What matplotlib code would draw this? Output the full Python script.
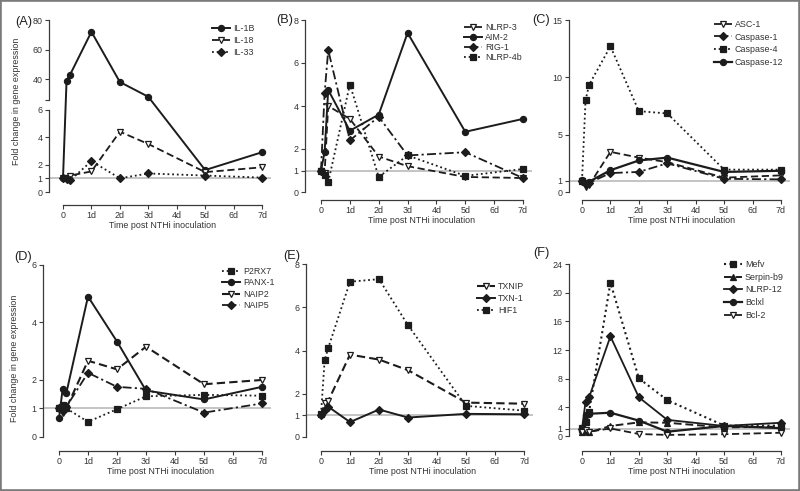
import numpy as np
import matplotlib
matplotlib.use("Agg")
import matplotlib.pyplot as plt
from matplotlib.patches import Rectangle
from matplotlib.ticker import NullFormatter

plt.rcParams['font.family'] = ['Liberation Sans', 'DejaVu Sans']

# ---------------- data ----------------
time_days = [0, 0.125, 0.25, 1, 2, 3, 5, 7]
x_tick_vals = [0, 1, 2, 3, 4, 5, 6, 7]
x_tick_labels = ['0', '1d', '2d', '3d', '4d', '5d', '6d', '7d']

# (A)
il1b = [1.0, 39, 43, 72, 38, 28, 1.6, 2.9]
il18 = [1.0, 1.05, 1.2, 1.5, 4.4, 3.5, 1.45, 1.8]
il33 = [1.0, 0.95, 0.85, 2.25, 1.0, 1.35, 1.2, 1.05]
# (B)
nlrp3 = [1.0, 0.9, 4.0, 3.4, 1.65, 1.2, 0.7, 0.65]
aim2 = [1.0, 1.85, 4.75, 2.85, 3.6, 7.4, 2.8, 3.4]
rig1 = [1.0, 4.6, 6.6, 2.4, 3.5, 1.7, 1.85, 0.65]
nlrp4b = [1.0, 0.8, 0.45, 5.0, 0.7, 1.7, 0.75, 1.07]
# (C)
asc1 = [1.0, 0.4, 0.6, 3.5, 3.0, 2.6, 1.25, 1.45]
casp1 = [1.0, 0.7, 0.8, 1.65, 1.75, 2.5, 1.15, 1.1]
casp4 = [1.0, 8.0, 9.35, 12.7, 7.05, 6.85, 1.95, 1.95]
casp12 = [1.05, 0.8, 0.9, 1.9, 2.75, 3.0, 1.75, 1.85]
# (D)
p2rx7 = [1.0, 1.1, 1.0, 0.53, 0.97, 1.42, 1.47, 1.44]
panx1 = [0.65, 1.67, 1.52, 4.9, 3.33, 1.62, 1.31, 1.75]
naip2 = [1.0, 0.85, 1.0, 2.66, 2.36, 3.15, 1.84, 1.99]
naip5 = [1.0, 0.9, 1.05, 2.24, 1.75, 1.68, 0.85, 1.17]
# (E)
txnip = [1.0, 1.55, 1.67, 3.81, 3.58, 3.09, 1.59, 1.54]
txn1 = [1.0, 1.25, 1.4, 0.69, 1.27, 0.9, 1.07, 1.05]
hif1 = [1.05, 3.55, 4.12, 7.18, 7.3, 5.17, 1.44, 1.22]
# (F)
mefv = [1.1, 2.0, 3.4, 21.4, 8.05, 5.0, 1.45, 1.45]
serpinb9 = [0.6, 0.7, 0.5, 1.4, 1.9, 1.85, 1.2, 1.3]
nlrp12 = [1.0, 4.8, 5.4, 13.9, 5.4, 2.25, 1.4, 1.85]
bclxl = [0.7, 2.9, 3.1, 3.25, 2.15, 0.6, 1.4, 1.1]
bcl2 = [0.5, 0.8, 0.6, 1.05, 0.28, 0.15, 0.25, 0.45]

# y ticks per panel
yt_a = [0, 1, 2, 4, 6, 40, 60, 80]
yt_b = [0, 1, 2, 4, 6, 8]
yt_c = [0, 1, 5, 10, 15]
yt_d = [0, 1, 2, 4, 6]
yt_e = [0, 1, 2, 4, 6, 8]
yt_f = [0, 1, 4, 8, 12, 16, 20, 24]

# ---------------- styles ----------------
INK = '#1c1c1c'
TXT = '#333333'
FS = 6.4
SOLID = '-'
DASH = (0, (4.0, 2.0))
DOT = (0, (1.0, 1.6))
DASHDOT = (0, (5.0, 1.8, 1.2, 1.8))

W, H = 800, 491
fig = plt.figure(figsize=(8, 4.91), dpi=100)


def make_ax(x0, x7, py0, pytop, yaxis, xaxis, xright=7.3):
    s = (x7 - x0) / 7.0
    xl = -(x0 - yaxis) / s
    right = x7 + (xright - 7) * s
    ax = fig.add_axes([yaxis / W, 1 - py0 / H, (right - yaxis) / W, (py0 - pytop) / H])
    ax.set_xlim(xl, xright)
    for sp in ('top', 'right'):
        ax.spines[sp].set_visible(False)
    for sp in ('left', 'bottom'):
        ax.spines[sp].set_linewidth(0.9)
        ax.spines[sp].set_color('#3a3a3a')
    ax.spines['bottom'].set_position(('outward', (xaxis - py0) * 0.72))
    ax.spines['bottom'].set_bounds(0, 7)
    ax.set_xticks(x_tick_vals)
    ax.set_xticklabels(x_tick_labels)
    ax.tick_params(which='both', direction='out', length=3, width=0.8, labelsize=FS,
                   pad=1.5, colors='#3a3a3a', labelcolor=TXT)
    ax.set_facecolor('none')
    return ax


def draw(ax, series, ylo, yhi, yticks, legend_xy, lspacing):
    ax.set_ylim(ylo, yhi)
    ax.set_yticks(yticks)
    ax.set_yticklabels([str(v) for v in yticks])
    ax.axhline(1, color='#b4b4b4', lw=1.1, zorder=1)
    handles = []
    for vals, label, ls, mk, filled, lw in series:
        h, = ax.plot(time_days, vals, color=INK, lw=lw, ls=ls, marker=mk, ms=4.4,
                     mfc=INK if filled else 'white', mec=INK, mew=0.9,
                     clip_on=False, zorder=3, label=label)
        handles.append(h)
    lx, ly = legend_xy
    leg = ax.legend(handles=handles, loc='upper left', bbox_to_anchor=(lx / W, 1 - ly / H),
                    bbox_transform=fig.transFigure, frameon=False, fontsize=FS,
                    handlelength=2.0, handletextpad=0.35, labelspacing=lspacing,
                    borderpad=0, borderaxespad=0, numpoints=1)
    for t in leg.get_texts():
        t.set_color(TXT)


def xlabel(ax, x0, x7, xaxis):
    fig.text(((x0 + x7) / 2) / W, 1 - (xaxis + 21) / H, 'Time post NTHi inoculation',
             ha='center', va='center', fontsize=FS, color=TXT)


# ---------------- (A) broken axis ----------------
L, U = 6.0, 26.0
G = 10 / 13.7
K = 1.475 / 13.7


def fwd(v):
    v = np.asarray(v, dtype=float)
    return np.where(v <= L, v, np.where(v <= U, L + (v - L) * G / (U - L), L + G + (v - U) * K))


def inv(t):
    t = np.asarray(t, dtype=float)
    return np.where(t <= L, t, np.where(t <= L + G, L + (t - L) * (U - L) / G, U + (t - L - G) / K))


axA = make_ax(63, 262, 192, 20, 49, 205)
axA.set_yscale('function', functions=(fwd, inv))
draw(axA, [
    (il1b, 'IL-1B', SOLID, 'o', True, 1.4),
    (il18, 'IL-18', DASH, 'v', False, 1.3),
    (il33, 'IL-33', DOT, 'D', True, 1.3),
], 0, 80, yt_a, (212, 24), 0.33)
axA.spines['left'].set_visible(False)
yt = axA.get_yaxis_transform()
axA.plot([0, 0], [0, 6], transform=yt, color='#3a3a3a', lw=0.9, clip_on=False)
axA.plot([0, 0], [U, 80], transform=yt, color='#3a3a3a', lw=0.9, clip_on=False)
axA.set_yticks([U], minor=True)
axA.yaxis.set_minor_formatter(NullFormatter())
axA.set_ylabel('Fold change in gene expression', fontsize=FS, color=TXT)
axA.yaxis.set_label_coords((21 - 49) / (270.6 - 49), 0.53)
xlabel(axA, 63, 262, 205)

# ---------------- (B) ----------------
axB = make_ax(321, 523, 192, 20, 305, 200)
axB.spines['left'].set_bounds(0, 8)
draw(axB, [
    (nlrp3, 'NLRP-3', DASH, 'v', False, 1.3),
    (aim2, 'AIM-2', SOLID, 'o', True, 1.4),
    (rig1, 'RIG-1', DASHDOT, 'D', True, 1.3),
    (nlrp4b, 'NLRP-4b', DOT, 's', True, 1.3),
], 0, 8, yt_b, (464, 23), 0.12)
xlabel(axB, 321, 523, 200)

# ---------------- (C) ----------------
axC = make_ax(582, 781, 192, 20, 569, 200)
axC.spines['left'].set_bounds(0, 15)
draw(axC, [
    (asc1, 'ASC-1', DASH, 'v', False, 1.3),
    (casp1, 'Caspase-1', DASHDOT, 'D', True, 1.3),
    (casp4, 'Caspase-4', DOT, 's', True, 1.3),
    (casp12, 'Caspase-12', SOLID, 'o', True, 1.6),
], 0, 15, yt_c, (714, 20), 0.4)
xlabel(axC, 582, 781, 200)

# ---------------- (D) ----------------
axD = make_ax(59, 262, 437, 265, 43, 451)
axD.spines['left'].set_bounds(0, 6)
draw(axD, [
    (p2rx7, 'P2RX7', DOT, 's', True, 1.3),
    (panx1, 'PANX-1', SOLID, 'o', True, 1.4),
    (naip2, 'NAIP2', DASH, 'v', False, 1.5),
    (naip5, 'NAIP5', DASHDOT, 'D', True, 1.3),
], 0, 6, yt_d, (222, 267), 0.26)
axD.set_ylabel('Fold change in gene expression', fontsize=FS, color=TXT)
axD.yaxis.set_label_coords((19 - 43) / (270.7 - 43), 0.46)
xlabel(axD, 59, 262, 451)

# ---------------- (E) ----------------
axE = make_ax(321, 524, 437, 264, 306, 451)
axE.spines['left'].set_bounds(0, 8)
draw(axE, [
    (txnip, 'TXNIP', DASH, 'v', False, 1.5),
    (txn1, 'TXN-1', SOLID, 'D', True, 1.4),
    (hif1, 'HIF1', DOT, 's', True, 1.3),
], 0, 8, yt_e, (477, 282), 0.33)
xlabel(axE, 321, 524, 451)

# ---------------- (F) ----------------
axF = make_ax(582, 781, 436, 264, 569, 451)
axF.spines['left'].set_bounds(0, 24)
draw(axF, [
    (mefv, 'Mefv', DOT, 's', True, 1.5),
    (serpinb9, 'Serpin-b9', DASH, '^', True, 1.4),
    (nlrp12, 'NLRP-12', SOLID, 'D', True, 1.3),
    (bclxl, 'Bclxl', SOLID, 'o', True, 1.6),
    (bcl2, 'Bcl-2', DASH, 'v', False, 1.3),
], 0, 24, yt_f, (724, 260), 0.42)
xlabel(axF, 582, 781, 451)

# panel letters (right edge given)
for lab, px, py in [('(A)', 32, 22), ('(B)', 293, 20), ('(C)', 550, 20),
                    ('(D)', 32, 257), ('(E)', 300, 256), ('(F)', 550, 253)]:
    fig.text(px / W, 1 - py / H, lab, ha='right', va='center', fontsize=9.2, color='#222222')

# figure frame
fig.patches.append(Rectangle((0, 0), 1, 1, transform=fig.transFigure, fill=False,
                             edgecolor='#7a7a7a', linewidth=2.6, zorder=10))

fig.savefig('out.png', dpi=100, facecolor='white')
